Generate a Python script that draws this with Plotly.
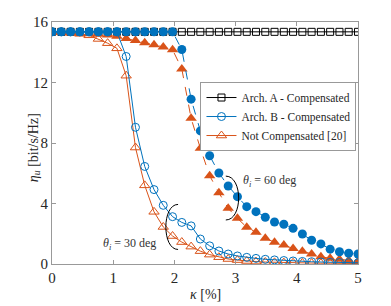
import plotly.graph_objects as go

kappa = [0.000, 0.152, 0.303, 0.455, 0.606, 0.758, 0.909, 1.061, 1.212, 1.364,
         1.515, 1.667, 1.818, 1.970, 2.121, 2.273, 2.424, 2.576, 2.727, 2.879,
         3.030, 3.182, 3.333, 3.485, 3.636, 3.788, 3.939, 4.091, 4.242, 4.394,
         4.545, 4.697, 4.848, 5.000]

arch_a = [15.35] * 34

arch_b_60 = [15.35, 15.35, 15.35, 15.35, 15.35, 15.35, 15.35, 15.35, 15.35, 15.35,
             15.35, 15.35, 15.35, 15.35, 14.18, 10.9, 8.8, 7.16, 6.02, 5.16,
             4.45, 3.79, 3.46, 3.09, 2.78, 2.63, 2.36, 1.98, 1.57, 1.33,
             0.98, 0.81, 0.71, 0.66]

nc_60 = [15.35, 15.33, 15.3, 15.27, 15.23, 15.19, 15.14, 15.05, 14.91, 14.78,
         14.63, 14.5, 14.35, 14.17, 12.9, 9.63, 7.65, 5.84, 4.71, 3.68,
         3.02, 2.43, 2.1, 1.70, 1.44, 1.26, 1.02, 0.85, 0.66, 0.48,
         0.38, 0.31, 0.24, 0.18]

arch_b_30 = [15.35, 15.35, 15.35, 15.35, 15.35, 15.35, 15.35, 15.35, 13.72, 9.04,
             6.45, 4.92, 3.88, 3.13, 2.75, 2.52, 1.65, 1.2, 0.86, 0.66,
             0.53, 0.44, 0.37, 0.31, 0.27, 0.23, 0.2, 0.17, 0.15, 0.13,
             0.11, 0.1, 0.09, 0.08]

nc_30 = [15.35, 15.32, 15.28, 15.22, 15.12, 14.88, 14.6, 14.26, 12.45, 7.7,
         5.2, 3.45, 2.45, 1.85, 1.45, 1.15, 0.85, 0.62, 0.45, 0.33,
         0.26, 0.2, 0.16, 0.13, 0.11, 0.09, 0.08, 0.07, 0.06, 0.05,
         0.05, 0.04, 0.04, 0.03]

BLUE = "#0072BD"
ORANGE = "#D95319"
FONT = "Liberation Serif"
TXT = "#262626"

fig = go.Figure()

fig.add_trace(go.Scatter(x=kappa, y=arch_a, mode="lines+markers",
                         name="Arch. A - Compensated", legendrank=1,
                         line=dict(color="black", width=1),
                         marker=dict(symbol="square-open", size=7, color="black", line=dict(width=1))))
fig.add_trace(go.Scatter(x=kappa, y=nc_60, mode="lines+markers", showlegend=False,
                         line=dict(color=ORANGE, width=1, dash="dash"),
                         marker=dict(symbol="triangle-up", size=10, color=ORANGE)))
fig.add_trace(go.Scatter(x=kappa, y=nc_30, mode="lines+markers",
                         name="Not Compensated [20]", legendrank=3,
                         line=dict(color=ORANGE, width=1),
                         marker=dict(symbol="triangle-up-open", size=9, color=ORANGE, line=dict(width=1))))
fig.add_trace(go.Scatter(x=kappa, y=arch_b_60, mode="lines+markers", showlegend=False,
                         line=dict(color=BLUE, width=1, dash="dash"),
                         marker=dict(symbol="circle", size=9, color=BLUE)))
fig.add_trace(go.Scatter(x=kappa, y=arch_b_30, mode="lines+markers",
                         name="Arch. B - Compensated", legendrank=2,
                         line=dict(color=BLUE, width=1),
                         marker=dict(symbol="circle-open", size=8, color=BLUE, line=dict(width=1))))

# brackets (annotation arcs): right half-ellipse for 60 deg, left half for 30 deg
def half_ellipse(cx, cy, rx, ry, side):
    k = 4.0 / 3.0 * rx * side
    return (f"M {cx},{cy + ry} C {cx + k},{cy + ry} {cx + k},{cy - ry} {cx},{cy - ry}")

br60 = dict(cx=2.84, cy=4.36, rx=0.21, ry=1.45)
br30 = dict(cx=2.06, cy=2.45, rx=0.20, ry=1.49)
fig.add_shape(type="path", path=half_ellipse(br60["cx"], br60["cy"], br60["rx"], br60["ry"], 1),
              line=dict(color="black", width=1), xref="x", yref="y")
fig.add_shape(type="path", path=half_ellipse(br30["cx"], br30["cy"], br30["rx"], br30["ry"], -1),
              line=dict(color="black", width=1), xref="x", yref="y")

fig.add_annotation(x=3.55, y=5.5, text="<i>θ</i><sub><i>i</i></sub> = 60 deg", showarrow=False,
                   font=dict(family=FONT, size=12, color="#333"))
fig.add_annotation(x=1.27, y=1.3, text="<i>θ</i><sub><i>i</i></sub> = 30 deg", showarrow=False,
                   font=dict(family=FONT, size=12, color="#333"))

# axis titles
fig.add_annotation(xref="paper", yref="paper", x=-0.092, y=0.48, textangle=-90,
                   text="<i>η</i><sub><i>u</i></sub> [bit/s/Hz]", showarrow=False,
                   font=dict(family=FONT, size=14, color=TXT))
fig.add_annotation(xref="paper", yref="paper", x=0.5, y=-0.128, yanchor="middle",
                   text="<i>κ</i> [%]", showarrow=False,
                   font=dict(family=FONT, size=14, color=TXT))

axis_common = dict(showline=True, linecolor="#999", linewidth=1, mirror="ticks",
                   ticks="inside", ticklen=4, tickcolor="#999", showgrid=False, zeroline=False,
                   automargin=False,
                   tickfont=dict(family=FONT, size=15, color=TXT))

fig.update_xaxes(range=[0, 5], tickvals=[0, 1, 2, 3, 4, 5], **axis_common)
fig.update_yaxes(range=[0, 16], tickvals=[0, 4, 8, 12, 16], **axis_common)

# page body has an 8px margin, so the figure is offset by (8, 8) in the window
fig.update_layout(width=383, height=298, margin=dict(l=44, r=33, t=14, b=42, autoexpand=False),
                  plot_bgcolor="white", paper_bgcolor="white",
                  font=dict(family=FONT, color=TXT),
                  legend=dict(x=0.995, y=0.752, xanchor="right", yanchor="top",
                              bgcolor="white", bordercolor="#999", borderwidth=1,
                              font=dict(family=FONT, size=11.5, color=TXT),
                              itemwidth=30, tracegroupgap=0))

fig.write_html("out.html")
